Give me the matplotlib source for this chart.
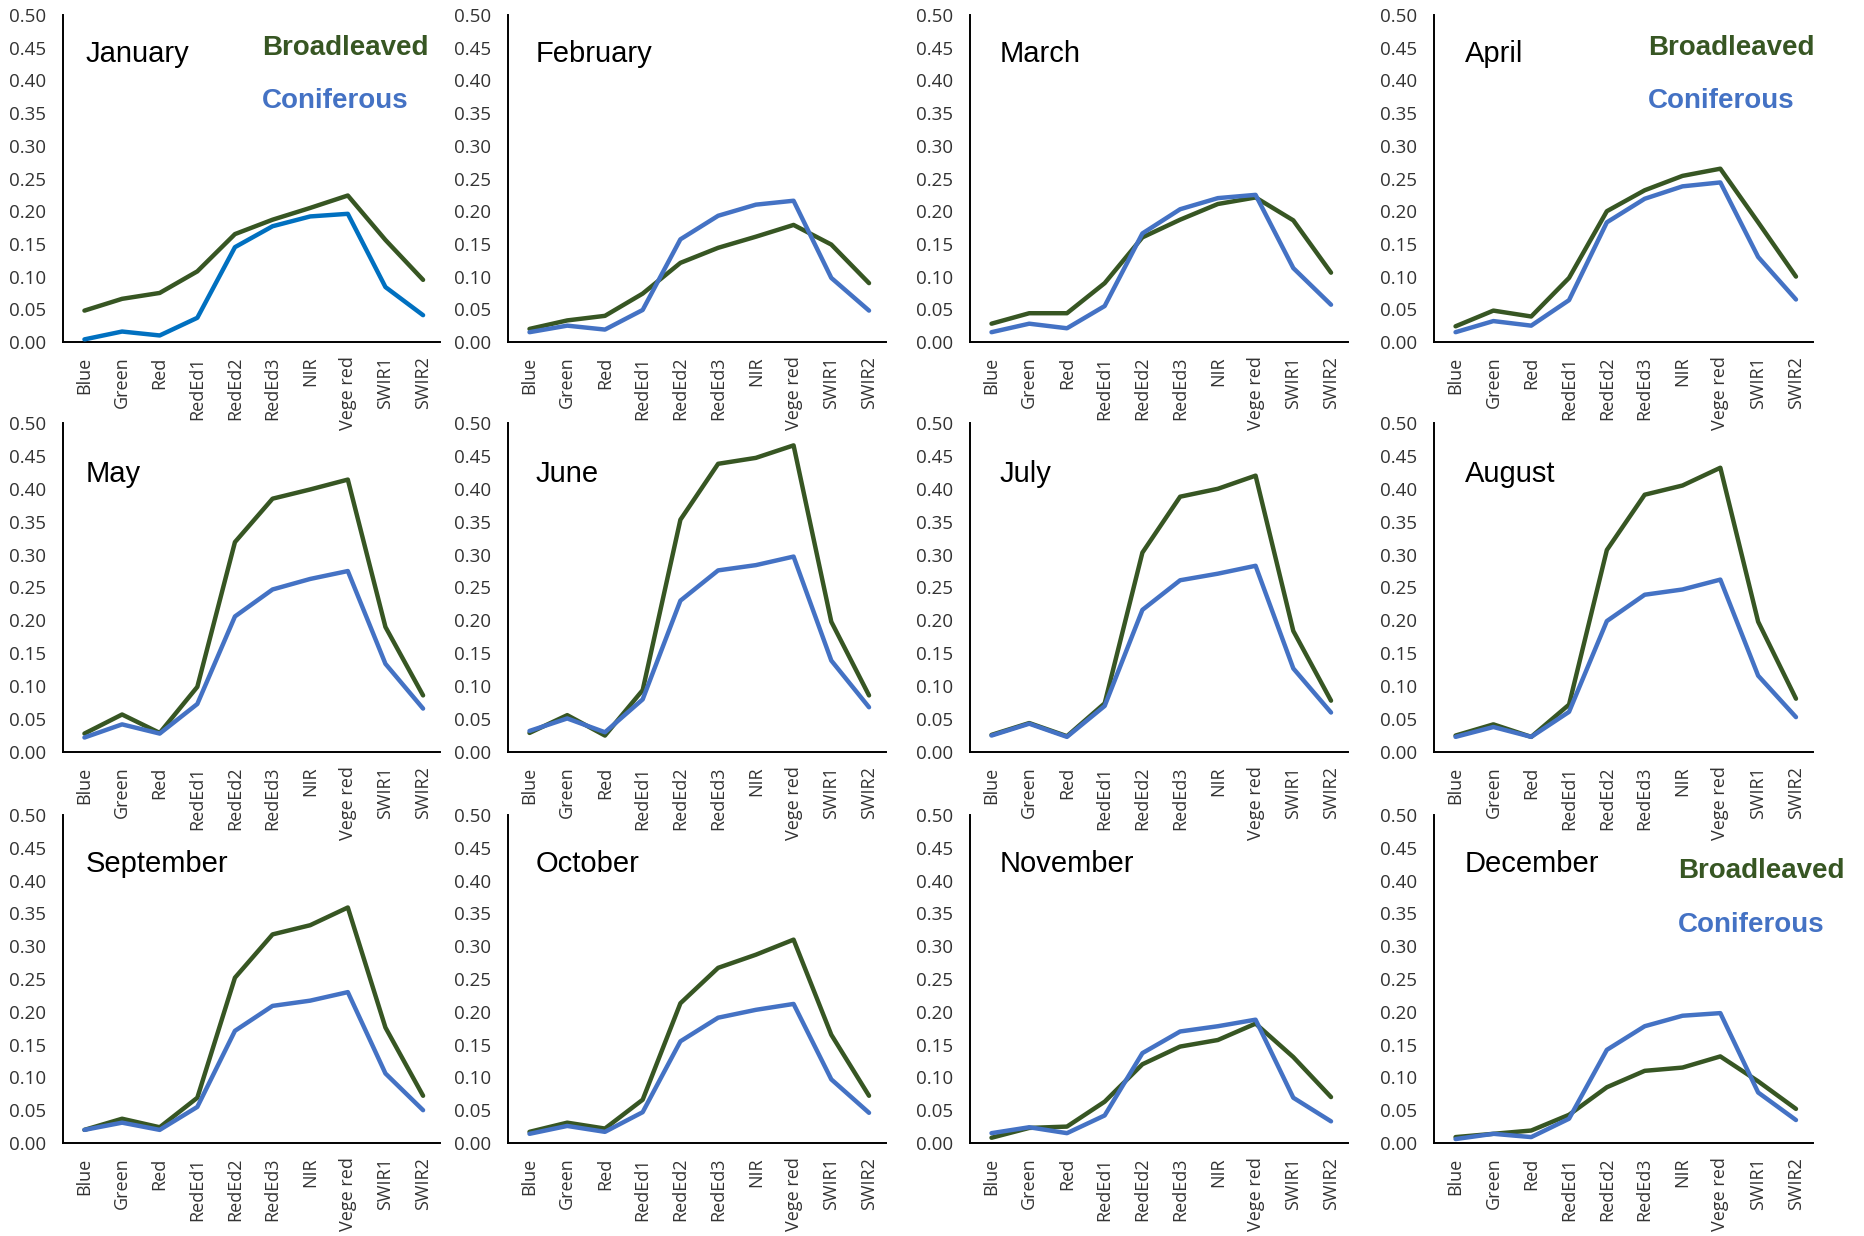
import matplotlib
matplotlib.use("Agg")
import matplotlib.pyplot as plt
from matplotlib.ticker import FormatStrFormatter, MultipleLocator

# ------------------------------ data -------------------------------------
BANDS = ['Blue', 'Green', 'Red', 'RedEd1', 'RedEd2', 'RedEd3', 'NIR',
         'Vege red', 'SWIR1', 'SWIR2']
MONTHS = ['January', 'February', 'March', 'April', 'May', 'June', 'July',
          'August', 'September', 'October', 'November', 'December']

jan_broad = [0.048, 0.066, 0.075, 0.108, 0.165, 0.187, 0.205, 0.224, 0.156, 0.095]
jan_conif = [0.004, 0.016, 0.010, 0.037, 0.145, 0.177, 0.192, 0.196, 0.084, 0.041]
feb_broad = [0.020, 0.033, 0.040, 0.074, 0.121, 0.144, 0.161, 0.179, 0.149, 0.090]
feb_conif = [0.015, 0.025, 0.019, 0.049, 0.157, 0.193, 0.210, 0.216, 0.098, 0.048]
mar_broad = [0.028, 0.044, 0.044, 0.090, 0.160, 0.187, 0.211, 0.221, 0.186, 0.106]
mar_conif = [0.015, 0.028, 0.021, 0.055, 0.166, 0.203, 0.220, 0.225, 0.113, 0.057]
apr_broad = [0.024, 0.048, 0.039, 0.098, 0.200, 0.232, 0.254, 0.265, 0.183, 0.100]
apr_conif = [0.015, 0.032, 0.025, 0.064, 0.183, 0.219, 0.238, 0.244, 0.130, 0.065]
may_broad = [0.028, 0.057, 0.029, 0.099, 0.319, 0.385, 0.399, 0.414, 0.190, 0.086]
may_conif = [0.022, 0.042, 0.028, 0.073, 0.206, 0.247, 0.263, 0.275, 0.134, 0.066]
jun_broad = [0.029, 0.056, 0.025, 0.094, 0.353, 0.438, 0.447, 0.466, 0.198, 0.086]
jun_conif = [0.032, 0.051, 0.030, 0.080, 0.230, 0.276, 0.284, 0.297, 0.139, 0.068]
jul_broad = [0.026, 0.044, 0.024, 0.074, 0.303, 0.388, 0.400, 0.420, 0.184, 0.078]
jul_conif = [0.025, 0.043, 0.023, 0.070, 0.216, 0.261, 0.271, 0.283, 0.127, 0.060]
aug_broad = [0.025, 0.042, 0.023, 0.072, 0.307, 0.391, 0.405, 0.432, 0.198, 0.081]
aug_conif = [0.023, 0.038, 0.023, 0.061, 0.199, 0.239, 0.247, 0.262, 0.116, 0.053]
sep_broad = [0.020, 0.037, 0.024, 0.069, 0.252, 0.318, 0.332, 0.359, 0.176, 0.072]
sep_conif = [0.020, 0.031, 0.020, 0.055, 0.171, 0.209, 0.217, 0.230, 0.106, 0.050]
oct_broad = [0.017, 0.031, 0.022, 0.066, 0.213, 0.267, 0.287, 0.310, 0.165, 0.072]
oct_conif = [0.014, 0.026, 0.017, 0.047, 0.155, 0.191, 0.203, 0.212, 0.097, 0.046]
nov_broad = [0.008, 0.023, 0.025, 0.063, 0.120, 0.147, 0.157, 0.182, 0.131, 0.070]
nov_conif = [0.015, 0.024, 0.015, 0.042, 0.137, 0.170, 0.178, 0.188, 0.069, 0.033]
dec_broad = [0.009, 0.014, 0.019, 0.043, 0.085, 0.110, 0.115, 0.132, 0.094, 0.052]
dec_conif = [0.006, 0.014, 0.009, 0.037, 0.142, 0.178, 0.194, 0.198, 0.077, 0.035]

BROAD = [jan_broad, feb_broad, mar_broad, apr_broad, may_broad, jun_broad,
         jul_broad, aug_broad, sep_broad, oct_broad, nov_broad, dec_broad]
CONIF = [jan_conif, feb_conif, mar_conif, apr_conif, may_conif, jun_conif,
         jul_conif, aug_conif, sep_conif, oct_conif, nov_conif, dec_conif]

# ------------------------------ style / layout ---------------------------
GREEN = '#375623'
BLUE = '#4472C4'
BLUE_JAN = '#0070C0'      # January's coniferous line is a different blue
TICK_COLOR = '#333333'

W, H = 1864, 1236
COL_X = [(63, 440), (508, 886), (970, 1348), (1434, 1813)]   # axis left/right [px]
ROW_Y = [(15, 342), (423, 752), (815, 1143)]                 # 0.50 / 0.00 [px]
TITLE_X = [86, 536, 1000, 1465]
TITLE_BASE = [62, 482, 872]
# legend text: (month index, x, baseline broadleaved, baseline coniferous)
LEGENDS = [(0, 262, 55, 108), (3, 1648, 55, 108), (11, 1678, 878, 932)]

plt.rcParams['font.family'] = ['Open Sans', 'DejaVu Sans']

fig = plt.figure(figsize=(W / 100, H / 100), dpi=100)

for i, month in enumerate(MONTHS):
    r, c = divmod(i, 4)
    x0, x1 = COL_X[c]
    y0, y1 = ROW_Y[r]
    ax = fig.add_axes([x0 / W, 1 - y1 / H, (x1 - x0) / W, (y1 - y0) / H])
    xs = range(len(BANDS))
    ax.plot(xs, BROAD[i], color=GREEN, lw=3.2, solid_joinstyle='round',
            solid_capstyle='round', zorder=3)
    ax.plot(xs, CONIF[i], color=BLUE_JAN if i == 0 else BLUE, lw=3.2,
            solid_joinstyle='round', solid_capstyle='round', zorder=3)
    ax.set_xlim(-0.57, 9.45)
    ax.set_ylim(0, 0.5)
    ax.yaxis.set_major_locator(MultipleLocator(0.05))
    ax.yaxis.set_major_formatter(FormatStrFormatter('%.2f'))
    ax.set_xticks(list(xs))
    ax.set_xticklabels(BANDS, rotation=90)
    ax.tick_params(axis='both', length=0, colors=TICK_COLOR)
    ax.tick_params(axis='y', pad=12, labelsize=13.5)
    ax.tick_params(axis='x', pad=10.5, labelsize=13)
    for s in ('top', 'right'):
        ax.spines[s].set_visible(False)
    for s in ('left', 'bottom'):
        ax.spines[s].set_color('black')
        ax.spines[s].set_linewidth(1.4)
    ax.patch.set_alpha(0)

    fig.text(TITLE_X[c] / W, 1 - TITLE_BASE[r] / H, month, fontsize=21,
             family=['Liberation Sans', 'DejaVu Sans'], color='black',
             ha='left', va='baseline')

for idx, lx, yb, yc in LEGENDS:
    fig.text(lx / W, 1 - yb / H, 'Broadleaved', fontsize=20, fontweight='bold',
             family=['Liberation Sans', 'DejaVu Sans'], color=GREEN,
             ha='left', va='baseline')
    fig.text(lx / W, 1 - yc / H, 'Coniferous', fontsize=20, fontweight='bold',
             family=['Liberation Sans', 'DejaVu Sans'], color=BLUE,
             ha='left', va='baseline')

fig.savefig('out.png', dpi=100, facecolor='white')
